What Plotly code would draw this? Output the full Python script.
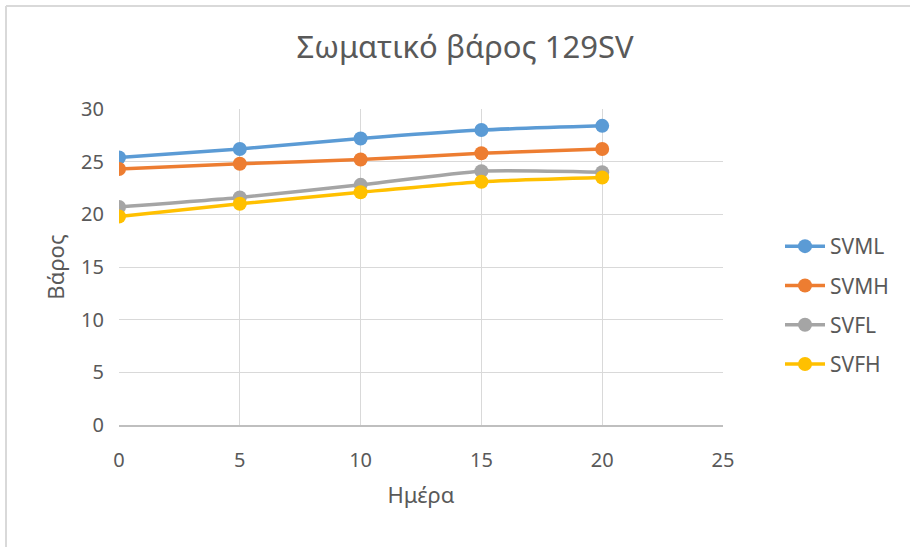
import plotly.graph_objects as go

# Body weight over time per group
days = [0, 5, 10, 15, 20]
svml = [25.4, 26.2, 27.2, 28.0, 28.4]
svmh = [24.3, 24.8, 25.2, 25.8, 26.2]
svfl = [20.7, 21.6, 22.8, 24.1, 24.0]
svfh = [19.8, 21.0, 22.1, 23.1, 23.5]

series = [
    ("SVML", svml, "#5B9BD5"),
    ("SVMH", svmh, "#ED7D31"),
    ("SVFL", svfl, "#A5A5A5"),
    ("SVFH", svfh, "#FFC000"),
]

FONT = "Noto Sans"
TEXT = "#595959"
GRID = "#D9D9D9"

fig = go.Figure()
for name, vals, color in series:
    fig.add_trace(go.Scatter(
        x=days, y=vals, name=name, mode="lines+markers",
        legendgroup=name,
        line=dict(color=color, width=3.5, shape="spline", smoothing=0.6),
        marker=dict(color=color, size=14),
    ))

# chart frame (top and left edges visible)
L, R, T, B = 119, 187, 109, 122
W, H = 910, 547
pw, ph = W - L - R, H - T - B
fx = (6 - L) / pw
fy = (H - B - 6) / ph
fig.add_shape(type="line", xref="paper", yref="paper", x0=fx, y0=fy, x1=(W - L + 10) / pw, y1=fy,
              line=dict(color=GRID, width=2))
fig.add_shape(type="line", xref="paper", yref="paper", x0=fx, y0=fy, x1=fx, y1=-(B + 10) / ph,
              line=dict(color=GRID, width=2))

fig.update_layout(
    width=W, height=H,
    margin=dict(l=L, r=R, t=T, b=B),
    paper_bgcolor="white", plot_bgcolor="white",
    font=dict(family=FONT, color=TEXT),
    title=dict(text="Σωματικό βάρος 129SV", x=465 / W, xref="container", xanchor="center",
               y=(H - 47) / H, yanchor="middle", font=dict(size=31, color=TEXT, family=FONT)),
    xaxis=dict(
        range=[0, 25], dtick=5, tick0=0, showgrid=True, gridcolor=GRID, gridwidth=1,
        zeroline=False, showline=True, linecolor="#BFBFBF", linewidth=1.5,
        tickfont=dict(size=20, color=TEXT), ticks="", ticklabelstandoff=16,
        title=dict(text="Ημέρα", font=dict(size=22, color=TEXT), standoff=16),
    ),
    yaxis=dict(
        range=[0, 30], dtick=5, tick0=0, showgrid=True, gridcolor=GRID, gridwidth=1,
        zeroline=False, showline=False,
        tickfont=dict(size=20, color=TEXT), ticks="", ticklabelstandoff=14,
        title=dict(text="Βάρος", font=dict(size=22, color=TEXT), standoff=10),
    ),
    legend=dict(
        x=(780 - L) / pw, xanchor="left", y=(H - B - 226) / ph, yanchor="top",
        font=dict(size=21, color=TEXT), tracegroupgap=9, itemwidth=40,
        bgcolor="rgba(0,0,0,0)",
    ),
)

fig.write_html("out.html")
